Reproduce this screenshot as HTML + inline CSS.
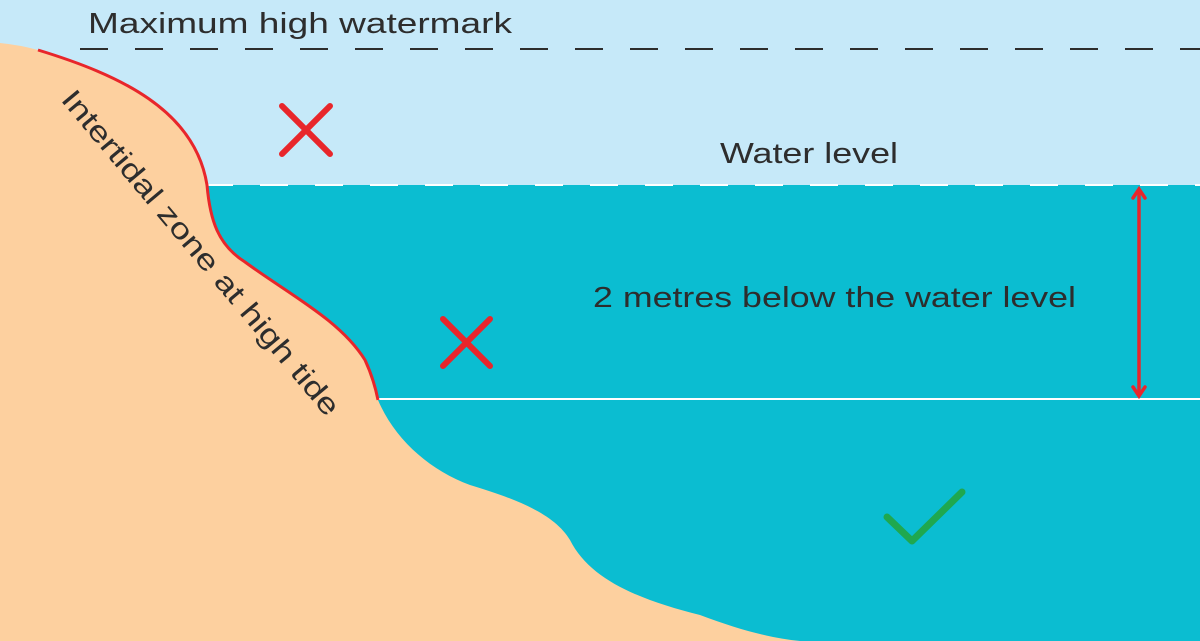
<!DOCTYPE html>
<html><head><style>body{margin:0;}svg{display:block}</style></head><body>
<svg width="1200" height="641" viewBox="0 0 1200 641" xmlns="http://www.w3.org/2000/svg" font-family="Liberation Sans, sans-serif">
<rect width="1200" height="641" fill="#c6e9f9"/>
<rect x="0" y="185" width="1200" height="456" fill="#0bbdd1"/>
<line x1="205" y1="185" x2="1200" y2="185" stroke="#fff" stroke-width="2" stroke-dasharray="28,27"/>
<line x1="378" y1="399" x2="1200" y2="399" stroke="#fff" stroke-width="2"/>
<path d="M0,43 Q20,45 38,50 C120,75 195,110 207,185 C210,220 218,245 245,262 C290,295 340,320 365,360 C372,375 376,390 378,400 C395,440 430,470 470,485 C520,500 555,515 570,540 C590,580 640,600 700,615 C740,630 770,638 800,641 L0,641 Z" fill="#fdd09f"/>
<path d="M38,50 C120,75 195,110 207,185 C210,220 218,245 245,262 C290,295 340,320 365,360 C372,375 376,390 378,400" fill="none" stroke="#e8262b" stroke-width="3"/>
<line x1="80" y1="49" x2="1200" y2="49" stroke="#2d2d2d" stroke-width="2" stroke-dasharray="28,27"/>
<text x="88" y="33" font-size="29" fill="#2d2d2d" textLength="424" lengthAdjust="spacingAndGlyphs">Maximum high watermark</text>
<text x="720" y="163" font-size="29" fill="#2d2d2d" textLength="178" lengthAdjust="spacingAndGlyphs">Water level</text>
<text x="593" y="307" font-size="29" fill="#2d2d2d" textLength="483" lengthAdjust="spacingAndGlyphs">2 metres below the water level</text>
<text transform="translate(60,100) rotate(50)" font-size="29" fill="#2d2d2d" textLength="415" lengthAdjust="spacingAndGlyphs">Intertidal zone at high tide</text>
<g stroke="#e8262b" stroke-width="6" stroke-linecap="round" fill="none">
<path d="M282,106 L330,154 M330,106 L282,154"/>
<path d="M443,319 L490,366 M490,319 L443,366"/>
</g>
<g stroke="#e8262b" stroke-width="3.5" fill="none" stroke-linecap="round">
<line x1="1139" y1="190" x2="1139" y2="395"/>
<path d="M1133,198 L1139,189 L1145,198 M1133,387 L1139,396 L1145,387"/>
</g>
<path d="M887,517 L912,541 L962,492" stroke="#1fa84f" stroke-width="7" fill="none" stroke-linecap="round" stroke-linejoin="round"/>
</svg>
</body></html>
